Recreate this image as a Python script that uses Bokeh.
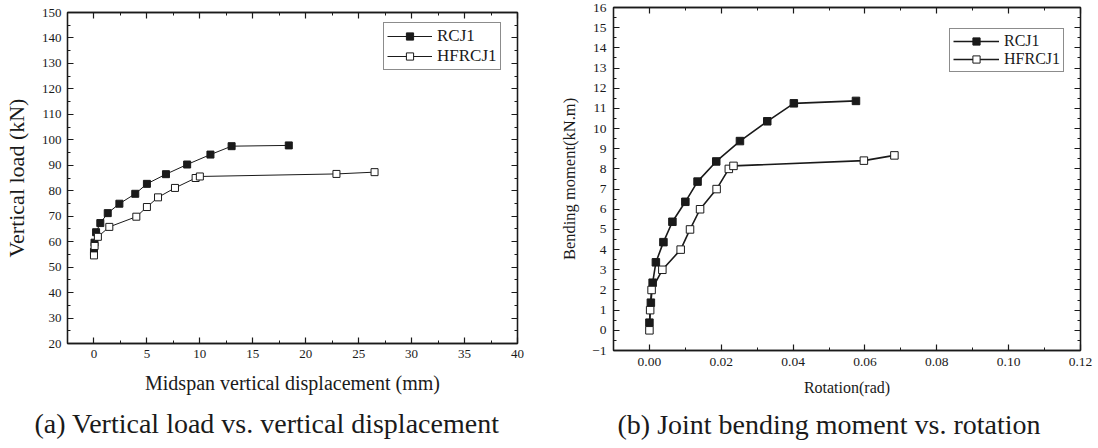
from bokeh.plotting import figure
from bokeh.layouts import row
from bokeh.models import (LinearAxis, SingleIntervalTicker, Range1d, Legend, Title,
                          CustomLabelingPolicy, NumeralTickFormatter)
from bokeh.embed import file_html
from bokeh.resources import INLINE

# ---------------- data ----------------
# (a) vertical load vs midspan vertical displacement
rcj1_disp = [0.0, 0.05, 0.2, 0.6, 1.3, 2.4, 3.9, 5.0, 6.8, 8.8, 11.0, 13.0, 18.4]
rcj1_load = [56.0, 59.6, 63.7, 67.3, 71.2, 74.9, 78.8, 82.7, 86.5, 90.3, 94.2, 97.5, 97.8]
hfrcj1_disp = [0.0, 0.06, 0.37, 1.45, 4.0, 5.0, 6.05, 7.65, 9.6, 10.0, 22.9, 26.5]
hfrcj1_load = [54.6, 58.3, 61.9, 65.8, 69.8, 73.6, 77.4, 81.1, 85.0, 85.6, 86.6, 87.3]

# (b) joint bending moment vs rotation
rcj1_rot = [0.0, 0.0004, 0.0009, 0.0018, 0.0039, 0.0064, 0.0100, 0.0134, 0.0186, 0.0252, 0.0328, 0.0402, 0.0575]
rcj1_mom = [0.38, 1.37, 2.36, 3.37, 4.37, 5.38, 6.37, 7.37, 8.37, 9.38, 10.36, 11.25, 11.37]
hfrcj1_rot = [0.0, 0.0002, 0.0006, 0.0036, 0.0087, 0.0113, 0.0141, 0.0187, 0.0221, 0.0234, 0.0597, 0.0682]
hfrcj1_mom = [0.0, 1.0, 2.0, 3.0, 4.0, 5.0, 6.0, 7.0, 8.0, 8.15, 8.41, 8.67]

series_names = ["RCJ1", "HFRCJ1"]
caption_a = "(a) Vertical load vs. vertical displacement"
caption_b = "(b) Joint bending moment vs. rotation"

FONT = "Liberation Serif"
INK = "#1a1a1a"


def style_axis(ax, interval, minor, label_size, show_labels=True):
    ax.ticker = SingleIntervalTicker(interval=interval, num_minor_ticks=minor)
    ax.major_tick_in = 6
    ax.major_tick_out = 0
    ax.minor_tick_in = 3
    ax.minor_tick_out = 0
    ax.axis_line_color = INK
    ax.axis_line_width = 1.3
    ax.major_tick_line_color = INK
    ax.minor_tick_line_color = INK
    ax.major_tick_line_width = 1.2
    ax.minor_tick_line_width = 1.0
    ax.major_label_text_font = FONT
    ax.major_label_text_color = INK
    ax.axis_label_text_font = FONT
    ax.axis_label_text_color = INK
    ax.axis_label_text_font_style = "normal"
    ax.major_label_text_font_size = label_size
    if not show_labels:
        ax.major_label_policy = CustomLabelingPolicy(
            code="for (const i of indices) { indices.unset(i) }")
        ax.major_label_standoff = 0


def make_panel(width, height, mb_left, mb_right, mb_top, mb_bottom, xr, yr):
    p = figure(width=width, height=height, output_backend="svg",
               toolbar_location=None, x_range=Range1d(*xr), y_range=Range1d(*yr),
               min_border_left=mb_left, min_border_right=mb_right,
               min_border_top=mb_top, min_border_bottom=mb_bottom,
               x_axis_location=None, y_axis_location=None)
    p.frame_align = False
    p.xgrid.visible = False
    p.ygrid.visible = False
    p.outline_line_color = INK
    p.outline_line_width = 1.3
    p.background_fill_color = "white"
    p.border_fill_color = "white"
    return p


def make_legend(renderers, loc, font_size, glyph_w):
    leg = Legend(items=[(series_names[0], renderers[0]), (series_names[1], renderers[1])],
                 location=loc)
    leg.label_text_font = FONT
    leg.label_text_font_size = font_size
    leg.label_text_line_height = 1.0
    leg.label_text_color = INK
    leg.glyph_width = glyph_w
    leg.glyph_height = 18
    leg.label_height = 18
    leg.label_standoff = 5
    leg.padding = 3
    leg.spacing = 0
    leg.margin = 0
    leg.border_line_color = INK
    leg.border_line_width = 1
    return leg


def caption(text, offset, standoff):
    return Title(text=text, align="left", offset=offset, standoff=standoff,
                 text_font=FONT, text_font_size="28px", text_font_style="normal",
                 text_color=INK)


# ---------------- panel (a) ----------------
pa = make_panel(540, 448, 66, 23, 12, 105, (-2.5, 40), (20, 150))
xa = LinearAxis(axis_label="Midspan vertical displacement (mm)")
style_axis(xa, 5, 2, "13px")
xa.major_label_standoff = 6
xa.axis_label_standoff = 11
xa.axis_label_text_font_size = "20px"
pa.add_layout(xa, "below")
ya = LinearAxis(axis_label="Vertical load (kN)")
style_axis(ya, 10, 2, "13px")
ya.major_label_standoff = 6
ya.axis_label_standoff = 10
ya.axis_label_text_font_size = "22px"
pa.add_layout(ya, "left")
xa2 = LinearAxis()
style_axis(xa2, 5, 2, "1px", show_labels=False)
pa.add_layout(xa2, "above")
ya2 = LinearAxis()
style_axis(ya2, 10, 2, "1px", show_labels=False)
pa.add_layout(ya2, "right")

la1 = pa.line(rcj1_disp, rcj1_load, line_color=INK, line_width=1.0)
sa1 = pa.scatter(rcj1_disp, rcj1_load, marker="square", size=7,
                 fill_color=INK, line_color=INK, line_width=1)
la2 = pa.line(hfrcj1_disp, hfrcj1_load, line_color=INK, line_width=1.0)
sa2 = pa.scatter(hfrcj1_disp, hfrcj1_load, marker="square", size=7,
                 fill_color="white", line_color=INK, line_width=1)

pa.add_layout(make_legend([[la1, sa1], [la2, sa2]], (316, 273), "17px", 45), "center")
pa.add_layout(caption(caption_a, -33, 18), "below")

# ---------------- panel (b) ----------------
pb = make_panel(558, 448, 73, 18, 7, 97, (-0.01, 0.12), (-1, 16))
xb = LinearAxis(axis_label="Rotation(rad)")
style_axis(xb, 0.02, 2, "13.5px")
xb.formatter = NumeralTickFormatter(format="0.00")
xb.major_label_standoff = 7
xb.axis_label_standoff = 10
xb.axis_label_text_font_size = "16px"
pb.add_layout(xb, "below")
yb = LinearAxis(axis_label="Bending moment(kN.m)")
style_axis(yb, 1, 2, "13.5px")
yb.major_label_standoff = 7
yb.axis_label_standoff = 10
yb.axis_label_text_font_size = "16.5px"
pb.add_layout(yb, "left")
xb2 = LinearAxis()
style_axis(xb2, 0.02, 2, "1px", show_labels=False)
pb.add_layout(xb2, "above")
yb2 = LinearAxis()
style_axis(yb2, 1, 2, "1px", show_labels=False)
pb.add_layout(yb2, "right")

lb1 = pb.line(rcj1_rot, rcj1_mom, line_color=INK, line_width=1.6)
sb1 = pb.scatter(rcj1_rot, rcj1_mom, marker="square", size=7.5,
                 fill_color=INK, line_color=INK, line_width=1)
lb2 = pb.line(hfrcj1_rot, hfrcj1_mom, line_color=INK, line_width=1.6)
sb2 = pb.scatter(hfrcj1_rot, hfrcj1_mom, marker="square", size=7.5,
                 fill_color="white", line_color=INK, line_width=1)

pb.add_layout(make_legend([[lb1, sb1], [lb2, sb2]], (336, 278), "16px", 46), "center")
pb.add_layout(caption(caption_b, 4, 17), "below")

layout = row(pa, pb)
open("out.html", "w").write(file_html(layout, INLINE))
